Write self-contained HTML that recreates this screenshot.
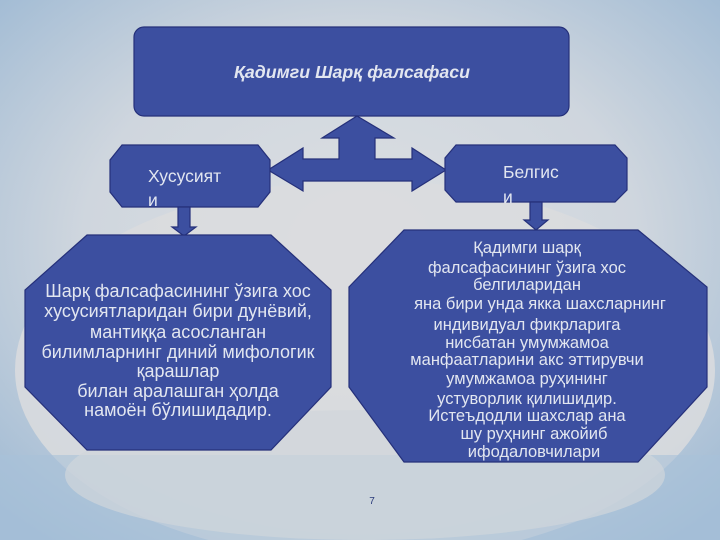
<!DOCTYPE html>
<html><head><meta charset="utf-8"><style>
body{margin:0;width:720px;height:540px;overflow:hidden;font-family:"Liberation Sans","DejaVu Sans",sans-serif}
</style></head><body>
<svg width="720" height="540" viewBox="0 0 720 540" xmlns="http://www.w3.org/2000/svg">
<defs>
<radialGradient id="bg" cx="50%" cy="45%" r="70%">
<stop offset="0" stop-color="#dcdfe2"/><stop offset="0.55" stop-color="#cfd6de"/><stop offset="1" stop-color="#9fbad4"/>
</radialGradient>
</defs>
<rect width="720" height="540" fill="url(#bg)"/>
<ellipse cx="365" cy="370" rx="350" ry="190" fill="#dadcde" opacity="0.85"/>
<rect x="0" y="455" width="720" height="85" fill="#a9c1d8" opacity="0.6"/>
<ellipse cx="365" cy="475" rx="300" ry="65" fill="#d0d6dc" opacity="0.7"/>
<g fill="#3c4fa0" stroke="#25307a" stroke-width="1.2">
<rect x="134" y="27" width="435" height="89" rx="10"/>
<polygon points="357,116 394,138 375,138 375,159 412,159 412,148 446,170 412,191 412,181 303,181 303,191 268,170 303,148 303,159 339,159 339,138 322,138"/>
<polygon points="122,145 258,145 270,160 270,192 258,207 122,207 110,192 110,160"/>
<polygon points="456,145 615,145 627,158 627,190 615,202 456,202 445,190 445,158"/>
<polygon points="178,207 190,207 190,227 196,227 184,236 172,227 178,227"/>
<polygon points="530,202 542,202 542,220 548,220 536,230 524,220 530,220"/>
<polygon points="87,235 271,235 331,290 331,387 271,450 87,450 25,387 25,290"/>
<polygon points="404,230 638,230 707,287 707,387 638,462 404,462 349,387 349,287"/>
</g>
<g fill="#e2e6f0" text-anchor="middle">
<text x="352" y="78" font-size="17.8" font-weight="bold" font-style="italic">Қадимги Шарқ фалсафаси</text>
<g text-anchor="start" font-size="17.5"><text x="148" y="182">Хусусият</text><text x="148" y="206">и</text>
<text x="503" y="178">Белгис</text><text x="503" y="203">и</text></g>
<g font-size="18">
<text x="178" y="297">Шарқ фалсафасининг ўзига хос</text>
<text x="178" y="317">хусусиятларидан бири дунёвий,</text>
<text x="178" y="338">мантиққа асосланган</text>
<text x="178" y="358">билимларнинг диний мифологик</text>
<text x="178" y="377">қарашлар</text>
<text x="178" y="397">билан аралашган ҳолда</text>
<text x="178" y="416">намоён бўлишидадир.</text>
</g>
<g font-size="16.5">
<text x="527" y="253">Қадимги шарқ</text>
<text x="527" y="273">фалсафасининг ўзига хос</text>
<text x="527" y="290">белгиларидан</text>
<text x="540" y="309">яна бири унда якка шахсларнинг</text>
<text x="527" y="330">индивидуал фикрларига</text>
<text x="527" y="348">нисбатан умумжамоа</text>
<text x="527" y="365">манфаатларини акс эттирувчи</text>
<text x="527" y="384">умумжамоа руҳининг</text>
<text x="527" y="404">устуворлик қилишидир.</text>
<text x="527" y="421">Истеъдодли шахслар ана</text>
<text x="534" y="439">шу руҳнинг ажойиб</text>
<text x="534" y="457">ифодаловчилари</text>
</g>
</g>
<text x="372" y="504" font-size="10" fill="#2a3a7a" text-anchor="middle">7</text>
</svg>
</body></html>
